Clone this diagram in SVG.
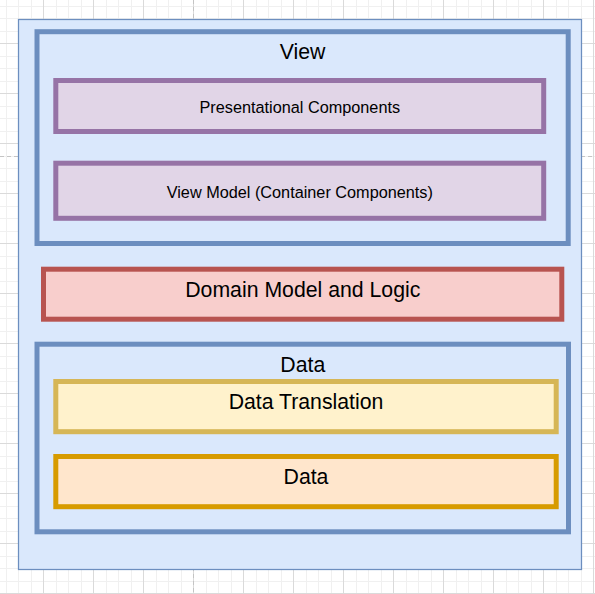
<svg xmlns="http://www.w3.org/2000/svg" width="595" height="594" viewBox="0 0 595 594">
  <defs>
    <pattern id="grid" patternUnits="userSpaceOnUse" x="43" y="43" width="50" height="50">
      <rect x="13" y="0" width="1" height="50" fill="#f0f0f0"/>
      <rect x="25" y="0" width="1" height="50" fill="#f0f0f0"/>
      <rect x="38" y="0" width="1" height="50" fill="#f0f0f0"/>
      <rect x="0" y="13" width="50" height="1" fill="#f0f0f0"/>
      <rect x="0" y="25" width="50" height="1" fill="#f0f0f0"/>
      <rect x="0" y="38" width="50" height="1" fill="#f0f0f0"/>
      <rect x="0" y="0" width="1" height="50" fill="#dadada"/>
      <rect x="0" y="0" width="50" height="1" fill="#dadada"/>
    </pattern>
    <style>
      .lbl { font-family: "Liberation Sans", Arial, sans-serif; fill: #000; text-anchor: middle; }
      .big { font-size: 21.25px; }
      .small { font-size: 16.25px; }
      .blue { fill: #dae8fc; stroke: #6c8ebf; stroke-width: 5; }
      .purple { fill: #e1d5e7; stroke: #9673a6; stroke-width: 5; }
      .red { fill: #f8cecc; stroke: #b85450; stroke-width: 5; }
      .yellow { fill: #fff2cc; stroke: #d6b656; stroke-width: 5; }
      .orange { fill: #ffe6cc; stroke: #d79b00; stroke-width: 5; }
    </style>
  </defs>

  <rect x="0" y="0" width="595" height="594" fill="#ffffff"/>
  <rect x="0" y="0" width="595" height="594" fill="url(#grid)"/>
  <line x1="193.5" y1="0" x2="193.5" y2="594" stroke="#c4c4c4" stroke-width="1" stroke-dasharray="4 3"/>
  <line x1="0" y1="156.5" x2="595" y2="156.5" stroke="#c4c4c4" stroke-width="1" stroke-dasharray="4 3"/>

  <g id="app">
    <rect x="18.5" y="19.5" width="563" height="550" fill="#dae8fc" stroke="#6c8ebf" stroke-width="1.25"/>
  </g>

  <g id="view">
    <rect class="blue" x="37" y="31.7" width="531.2" height="211.8"/>
    <text class="lbl big" x="302.6" y="59.3">View</text>
  </g>

  <g id="presentational">
    <rect class="purple" x="55.8" y="80.5" width="487.9" height="51"/>
    <text class="lbl small" x="299.8" y="112.7">Presentational Components</text>
  </g>

  <g id="viewmodel">
    <rect class="purple" x="55.8" y="163.2" width="487.9" height="55.1"/>
    <text class="lbl small" x="299.8" y="197.7">View Model (Container Components)</text>
  </g>

  <g id="domain">
    <rect class="red" x="43.5" y="269.2" width="518.3" height="50"/>
    <text class="lbl big" x="302.8" y="296.7">Domain Model and Logic</text>
  </g>

  <g id="data-layer">
    <rect class="blue" x="37" y="344.2" width="531.5" height="187.6"/>
    <text class="lbl big" x="302.8" y="372.3">Data</text>
  </g>

  <g id="data-translation">
    <rect class="yellow" x="55.8" y="381.5" width="500.4" height="50.2"/>
    <text class="lbl big" x="306" y="409">Data Translation</text>
  </g>

  <g id="data">
    <rect class="orange" x="55.8" y="456.5" width="500.4" height="50.2"/>
    <text class="lbl big" x="306" y="484">Data</text>
  </g>

  <g id="connectors"/>
</svg>
